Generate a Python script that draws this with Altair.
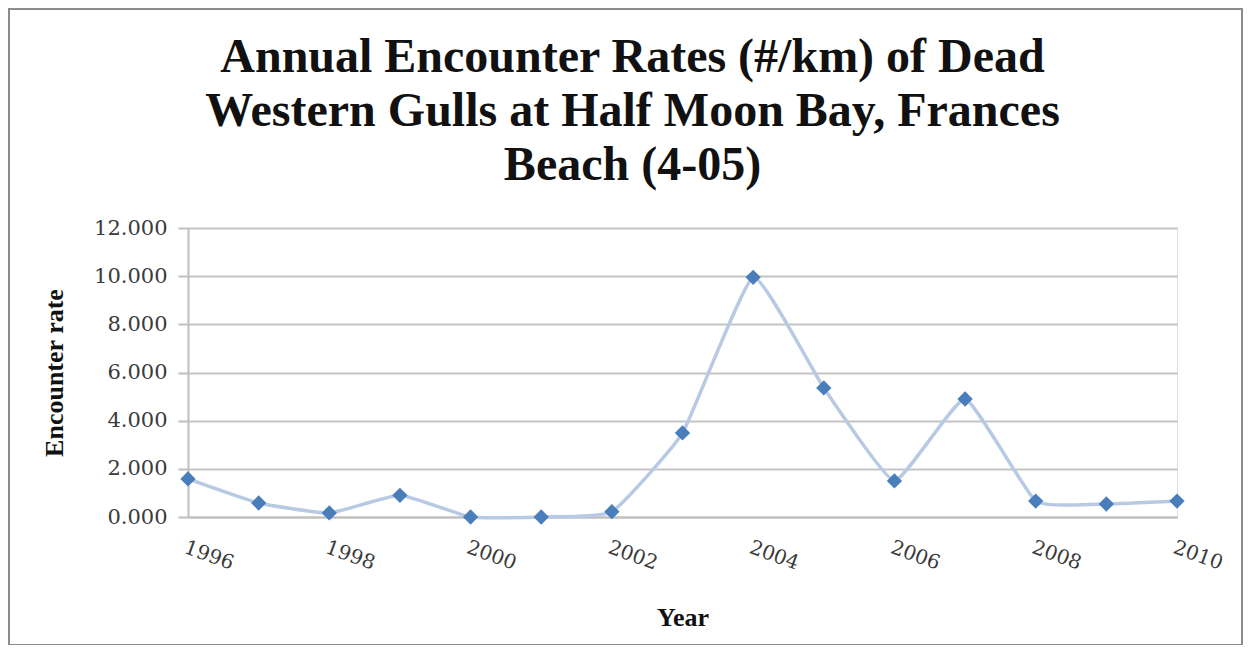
import altair as alt
import pandas as pd

years = [1996, 1997, 1998, 1999, 2000, 2001, 2002, 2003, 2004, 2005, 2006, 2007, 2008, 2009, 2010]
rates = [1.58, 0.58, 0.17, 0.90, 0.0, 0.0, 0.22, 3.49, 9.95, 5.36, 1.50, 4.90, 0.66, 0.54, 0.66]
year_ticks = [1996, 1998, 2000, 2002, 2004, 2006, 2008, 2010]
rate_ticks = [0, 2, 4, 6, 8, 10, 12]
title_lines = ["Annual Encounter Rates (#/km) of Dead",
               "Western Gulls at Half Moon Bay, Frances",
               "Beach (4-05)"]

df = pd.DataFrame({"Year": years, "Rate": rates})

W, H = 989, 289

x = alt.X("Year:Q",
          scale=alt.Scale(domain=[1996, 2010], nice=False, zero=False),
          axis=alt.Axis(values=year_ticks, format="d", title="Year",
                        labelAngle=20, labelAlign="left", labelBaseline="top",
                        labelPadding=20, ticks=False, grid=False,
                        domainColor="#bfbfbf", domainWidth=2,
                        labelFont="DejaVu Serif", labelFontSize=20,
                        labelColor="#3a3a3a",
                        titleFont="Liberation Serif", titleFontSize=26,
                        titleFontWeight="bold", titleColor="#111111",
                        titlePadding=31))
y = alt.Y("Rate:Q",
          scale=alt.Scale(domain=[0, 12], nice=False),
          axis=alt.Axis(values=rate_ticks, format=".3f", title="Encounter rate",
                        tickSize=10, tickColor="#bfbfbf", tickWidth=2,
                        domainColor="#bfbfbf", domainWidth=2,
                        gridColor="#c4c4c4", gridWidth=2,
                        labelPadding=11,
                        labelFont="DejaVu Serif", labelFontSize=21,
                        labelColor="#3a3a3a",
                        titleFont="Liberation Serif", titleFontSize=26,
                        titleFontWeight="bold", titleColor="#111111",
                        titlePadding=26))

line = alt.Chart(df).mark_line(color="#b8cae3", strokeWidth=3.5,
                               interpolate="cardinal", tension=0.6).encode(x=x, y=y)
pts = alt.Chart(df).mark_point(shape="diamond", filled=True, size=235,
                               color="#4a7ebb", opacity=1).encode(x=x, y=y)

frame = alt.Chart(pd.DataFrame({"a": [0]})).mark_rect(
    fill=None, stroke="#8c8c8c", strokeWidth=2
).encode(x=alt.value(-179), x2=alt.value(1054), y=alt.value(-219), y2=alt.value(417))

chart = alt.layer(frame, line, pts).properties(
    width=W, height=H,
    title=alt.TitleParams(title_lines, anchor="middle", dx=-50, dy=212,
                          font="Liberation Serif", fontSize=48,
                          fontWeight="bold", color="#111111",
                          lineHeight=54, offset=30),
    autosize=alt.AutoSizeParams(type="none"),
    padding={"left": 180, "top": 220, "right": 67, "bottom": 128},
).configure_view(stroke=None).configure(background="white")

chart.save("out.html", embed_options={"renderer": "svg", "actions": False})
